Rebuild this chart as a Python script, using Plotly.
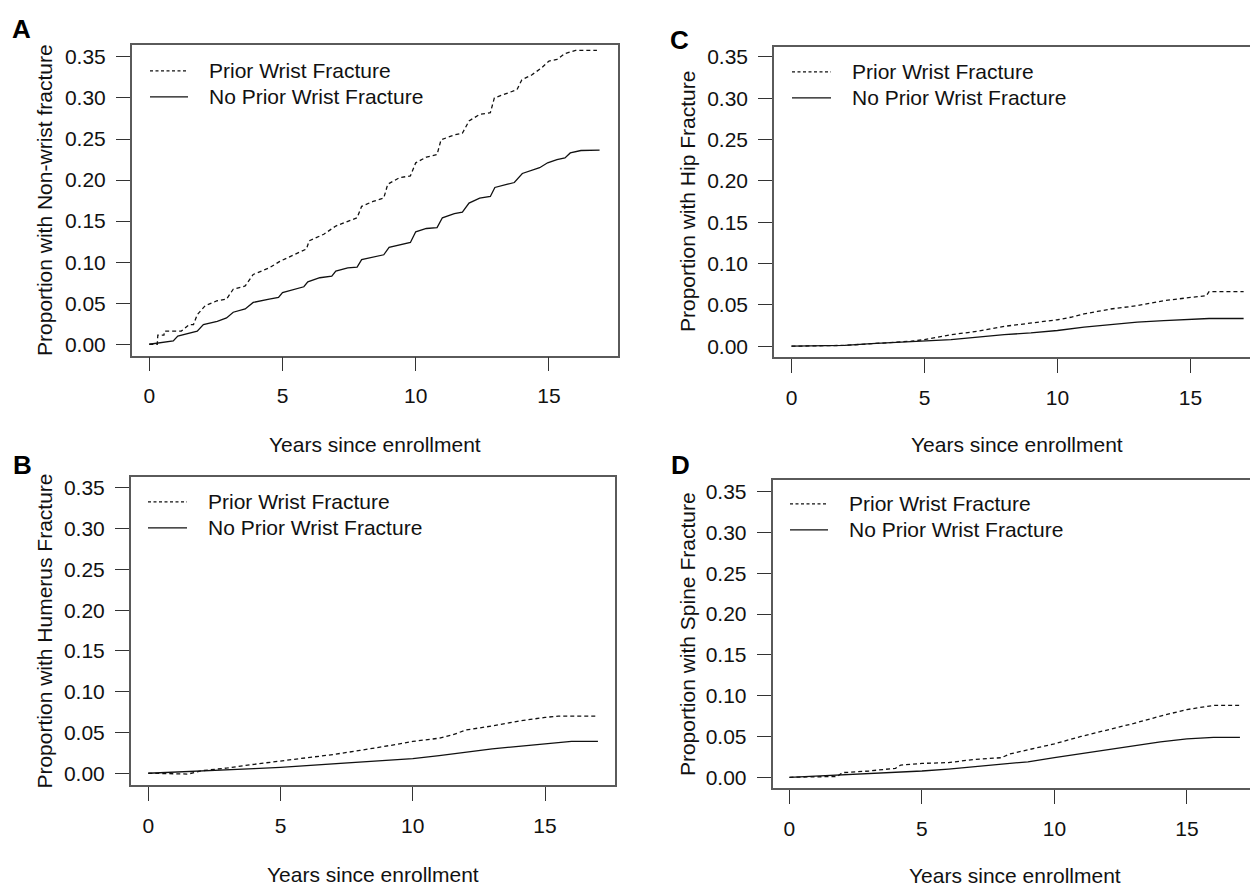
import plotly.graph_objects as go

# ---------------- data ----------------
legend_labels = ["Prior Wrist Fracture", "No Prior Wrist Fracture"]
x_tick_vals = [0, 5, 10, 15]
y_tick_vals = [0.00, 0.05, 0.10, 0.15, 0.20, 0.25, 0.30, 0.35]
x_title = "Years since enrollment"

# Panel A: non-wrist fracture
a_prior_t = [0, 0.3, 0.32, 0.55, 0.57, 1.2, 1.5, 1.66, 1.8, 2.1, 2.55, 2.9, 3.15, 3.6, 3.9, 4.5, 4.9, 5.4,
             5.9, 6.0, 6.55, 7.0, 7.45, 7.8, 7.97, 8.4, 8.8, 8.95, 9.4, 9.8, 10.0, 10.4, 10.8, 10.95,
             11.45, 11.75, 12.0, 12.4, 12.8, 12.95, 13.45, 13.8, 13.98, 14.35, 14.7, 15.0, 15.3, 15.6,
             16.0, 16.8]
a_prior_v = [0, 0, 0.011, 0.011, 0.016, 0.016, 0.024, 0.024, 0.036, 0.047, 0.053, 0.055, 0.067, 0.071,
             0.085, 0.093, 0.101, 0.109, 0.116, 0.126, 0.134, 0.144, 0.150, 0.154, 0.168, 0.174, 0.178,
             0.195, 0.203, 0.205, 0.221, 0.228, 0.231, 0.249, 0.255, 0.257, 0.272, 0.280, 0.282, 0.300,
             0.306, 0.310, 0.322, 0.328, 0.336, 0.345, 0.347, 0.354, 0.358, 0.358]
a_none_t = [0, 0.9, 1.07, 1.5, 1.8, 2.03, 2.55, 2.9, 3.15, 3.6, 3.9, 4.5, 4.85, 5.0, 5.5, 5.8, 5.95, 6.4,
            6.85, 7.0, 7.45, 7.8, 7.97, 8.5, 8.8, 9.0, 9.5, 9.8, 10.0, 10.4, 10.8, 11.0, 11.45, 11.75,
            12.0, 12.4, 12.8, 12.97, 13.45, 13.7, 14.0, 14.35, 14.65, 14.95, 15.3, 15.6, 15.8, 16.2, 16.9]
a_none_v = [0, 0.004, 0.010, 0.014, 0.016, 0.024, 0.028, 0.032, 0.039, 0.043, 0.051, 0.055, 0.057, 0.063,
            0.067, 0.070, 0.076, 0.081, 0.083, 0.089, 0.093, 0.094, 0.103, 0.107, 0.109, 0.118, 0.122,
            0.124, 0.137, 0.141, 0.142, 0.154, 0.159, 0.161, 0.172, 0.178, 0.180, 0.191, 0.195, 0.197,
            0.208, 0.212, 0.215, 0.221, 0.225, 0.227, 0.233, 0.236, 0.2365]

# Panel B: humerus fracture
b_prior_t = [0, 1.5, 2.0, 3.0, 4.0, 5.0, 6.0, 7.0, 8.0, 9.0, 9.5, 10.0, 11.0, 11.5, 12.0, 13.0, 14.0,
             15.0, 15.5, 17.0]
b_prior_v = [0, -0.001, 0.003, 0.0065, 0.011, 0.015, 0.019, 0.023, 0.028, 0.033, 0.036, 0.039, 0.043,
             0.047, 0.053, 0.058, 0.064, 0.0685, 0.070, 0.070]
b_none_t = [0, 2.0, 3.0, 4.0, 5.0, 6.0, 7.0, 8.0, 9.0, 10.0, 11.0, 12.0, 13.0, 14.0, 15.0, 16.0, 17.0]
b_none_v = [0, 0.0025, 0.0045, 0.0057, 0.0073, 0.0094, 0.0114, 0.0135, 0.016, 0.018, 0.0216, 0.0257,
            0.030, 0.033, 0.036, 0.039, 0.039]

# Panel C: hip fracture
c_prior_t = [0, 2.0, 4.5, 5.0, 6.0, 7.0, 8.0, 9.0, 10.0, 10.5, 11.0, 11.5, 12.0, 13.0, 14.0, 15.0, 15.6,
             15.7, 17.0]
c_prior_v = [0, 0.001, 0.006, 0.008, 0.014, 0.018, 0.024, 0.028, 0.032, 0.035, 0.039, 0.042, 0.045,
             0.049, 0.055, 0.059, 0.061, 0.066, 0.066]
c_none_t = [0, 2.0, 3.0, 4.0, 5.0, 6.0, 7.0, 8.0, 9.0, 10.0, 11.0, 12.0, 13.0, 14.0, 15.0, 15.7, 17.0]
c_none_v = [0, 0.001, 0.003, 0.0045, 0.006, 0.008, 0.011, 0.014, 0.016, 0.019, 0.023, 0.026, 0.029,
            0.031, 0.032, 0.0335, 0.0335]

# Panel D: spine fracture
d_prior_t = [0, 1.8, 2.0, 3.0, 4.0, 4.2, 5.0, 6.0, 7.0, 8.0, 8.3, 9.0, 10.0, 11.0, 12.0, 13.0, 14.0,
             15.0, 16.0, 17.0]
d_prior_v = [0, 0.001, 0.0057, 0.0077, 0.011, 0.015, 0.017, 0.018, 0.022, 0.024, 0.0285, 0.034, 0.041,
             0.050, 0.058, 0.066, 0.075, 0.083, 0.088, 0.088]
d_none_t = [0, 2.0, 3.0, 4.0, 5.0, 6.0, 7.0, 8.0, 9.0, 10.0, 11.0, 12.0, 13.0, 14.0, 15.0, 16.0, 17.0]
d_none_v = [0, 0.003, 0.004, 0.0057, 0.0077, 0.010, 0.013, 0.016, 0.019, 0.024, 0.029, 0.034, 0.039,
            0.0435, 0.047, 0.049, 0.049]

panel_letters = ["A", "B", "C", "D"]
y_titles = ["Proportion with Non-wrist fracture", "Proportion with Humerus Fracture",
            "Proportion with Hip Fracture", "Proportion with Spine Fracture"]
series = [
    (a_prior_t, a_prior_v, a_none_t, a_none_v),
    (b_prior_t, b_prior_v, b_none_t, b_none_v),
    (c_prior_t, c_prior_v, c_none_t, c_none_v),
    (d_prior_t, d_prior_v, d_none_t, d_none_v),
]

# ---------------- layout geometry (pixels in a 1250x886 canvas) ----------------
W, H = 1250, 886
FONT = "Liberation Sans, Arial, Helvetica, sans-serif"
DASH = "4px,3px"


def px(x):
    return x / W


def py(y):
    return 1 - y / H


# box: left, right, top, bottom ; x range ; y range ; letter pos ; ytitle x ; xtitle y ; legend
geo = [
    dict(l=131.7, r=617.7, t=43.5, b=354.3, xr=[-0.66, 17.58], yr=[-0.0137, 0.364],
         letter=(21, 27), ytx=44.5, xty=443, leg=(150, 188, 69, 95, 207)),
    dict(l=130.7, r=614.6, t=476, b=785, xr=[-0.665, 17.63], yr=[-0.0147, 0.3635],
         letter=(22, 464), ytx=44.5, xty=874, leg=(148, 187, 501, 527, 206)),
    dict(l=774, r=1250, t=45, b=356, xr=[-0.658, 17.24], yr=[-0.0133, 0.362],
         letter=(679, 38), ytx=687, xty=443, leg=(792, 831, 70, 96, 850)),
    dict(l=772.5, r=1250, t=479, b=788, xr=[-0.64, 17.38], yr=[-0.0134, 0.3643],
         letter=(681, 464), ytx=687, xty=875, leg=(790, 828, 503, 529, 847)),
]

fig = go.Figure()
annotations = []
shapes = []

for i, (g, (pt, pv, nt, nv)) in enumerate(zip(geo, series)):
    n = "" if i == 0 else str(i + 1)
    xa, ya = "x" + n, "y" + n
    fig.add_trace(go.Scatter(x=pt, y=pv, mode="lines", xaxis=xa, yaxis=ya, showlegend=False,
                             name=legend_labels[0],
                             line=dict(color="#111111", width=1.3, dash=DASH)))
    fig.add_trace(go.Scatter(x=nt, y=nv, mode="lines", xaxis=xa, yaxis=ya, showlegend=False,
                             name=legend_labels[1],
                             line=dict(color="#111111", width=1.3)))
    right_open = g["r"] >= W
    fig.layout["xaxis" + n] = dict(
        domain=[px(g["l"]), px(g["r"])], range=g["xr"], anchor=ya,
        tickmode="array", tickvals=x_tick_vals, ticktext=[str(v) for v in x_tick_vals],
        ticks="outside", ticklen=14, tickwidth=1.2, tickcolor="#333333",
        showline=True, linecolor="#5a5a5a", linewidth=1.5, mirror=True,
        showgrid=False, zeroline=False, ticklabelstandoff=7,
        tickfont=dict(family=FONT, size=21, color="#111111"))
    fig.layout["yaxis" + n] = dict(
        domain=[py(g["b"]), py(g["t"])], range=g["yr"], anchor=xa,
        tickmode="array", tickvals=y_tick_vals, ticktext=["%.2f" % v for v in y_tick_vals],
        ticks="outside", ticklen=14, tickwidth=1.2, tickcolor="#333333",
        showline=True, linecolor="#5a5a5a", linewidth=1.5, mirror=(not right_open),
        showgrid=False, zeroline=False, ticklabelstandoff=6,
        tickfont=dict(family=FONT, size=21, color="#111111"))

    # panel letter
    annotations.append(dict(text="<b>%s</b>" % panel_letters[i], x=px(g["letter"][0]), y=py(g["letter"][1]),
                            xref="paper", yref="paper", xanchor="center", yanchor="middle",
                            showarrow=False, font=dict(family=FONT, size=26, color="#000000")))
    # y title
    annotations.append(dict(text=y_titles[i], x=px(g["ytx"]), y=py((g["t"] + g["b"]) / 2),
                            xref="paper", yref="paper", xanchor="center", yanchor="middle",
                            textangle=-90, showarrow=False,
                            font=dict(family=FONT, size=21, color="#111111")))
    # x title
    xc = (g["l"] + (g["r"] if not right_open else g["l"] + 485)) / 2
    annotations.append(dict(text=x_title, x=px(xc), y=py(g["xty"]),
                            xref="paper", yref="paper", xanchor="center", yanchor="middle",
                            showarrow=False, font=dict(family=FONT, size=21, color="#111111")))
    # legend (drawn inside the box)
    x0, x1, yd, ys, xt = g["leg"]
    shapes.append(dict(type="line", xref="paper", yref="paper", x0=px(x0), x1=px(x1), y0=py(yd), y1=py(yd),
                       line=dict(color="#111111", width=1.2, dash="3px,2.5px")))
    shapes.append(dict(type="line", xref="paper", yref="paper", x0=px(x0), x1=px(x1), y0=py(ys), y1=py(ys),
                       line=dict(color="#111111", width=1.2)))
    annotations.append(dict(text=legend_labels[0], x=px(xt), y=py(yd), xref="paper", yref="paper",
                            xanchor="left", yanchor="middle", showarrow=False,
                            font=dict(family=FONT, size=21, color="#111111")))
    annotations.append(dict(text=legend_labels[1], x=px(xt), y=py(ys), xref="paper", yref="paper",
                            xanchor="left", yanchor="middle", showarrow=False,
                            font=dict(family=FONT, size=21, color="#111111")))

fig.update_layout(width=W, height=H, margin=dict(l=0, r=0, t=0, b=0),
                  paper_bgcolor="white", plot_bgcolor="white",
                  annotations=annotations, shapes=shapes, showlegend=False)

fig.write_html("out.html", include_plotlyjs=True, full_html=True,
               config={"displayModeBar": False},
               post_script="document.body.style.margin='0';document.body.style.overflow='hidden';")
